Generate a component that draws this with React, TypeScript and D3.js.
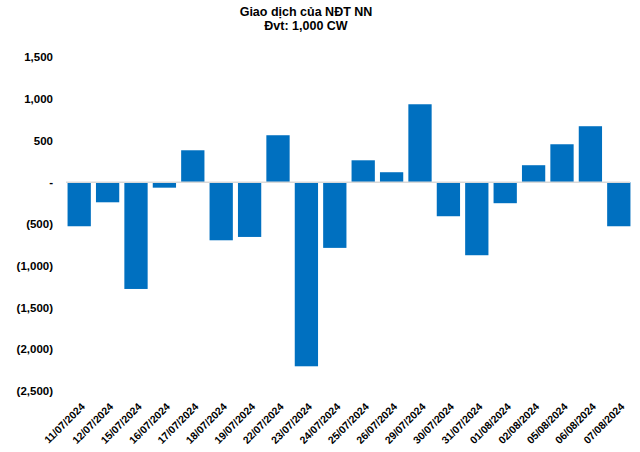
import React from "react";
import * as d3 from "d3";

const categories = [
  "11/07/2024", "12/07/2024", "15/07/2024", "16/07/2024", "17/07/2024",
  "18/07/2024", "19/07/2024", "22/07/2024", "23/07/2024", "24/07/2024",
  "25/07/2024", "26/07/2024", "29/07/2024", "30/07/2024", "31/07/2024",
  "01/08/2024", "02/08/2024", "05/08/2024", "06/08/2024", "07/08/2024",
];
const values = [
  -527, -240, -1278, -65, 383,
  -695, -655, 563, -2204, -786,
  263, 120, 934, -407, -874,
  -251, 204, 455, 671, -527,
];
const yTicks = [1500, 1000, 500, 0, -500, -1000, -1500, -2000, -2500];
const titleLines = ["Giao dịch của NĐT NN", "Đvt: 1,000 CW"];

const W = 640;
const H = 452;
const FONT = "'Liberation Sans', Arial, sans-serif";

function fmt(v: number): string {
  if (v === 0) return "-";
  const s = d3.format(",")(Math.abs(v));
  return v < 0 ? `(${s})` : s;
}

export default function App() {
  const y = d3.scaleLinear().domain([-2500, 1500]).range([391, 57]);
  const x = d3.scaleBand<string>().domain(categories).range([65, 633]).paddingInner(0.18).paddingOuter(0.09);
  const y0 = y(0);

  return (
    <svg width={W} height={H} style={{ position: "absolute", left: 0, top: 0, background: "#fff" }} fontFamily={FONT}>
      <g fontWeight="bold" fontSize={12.5} textAnchor="middle" fill="#000">
        {titleLines.map((t, i) => (
          <text key={i} x={306} y={16 + i * 14}>{t}</text>
        ))}
      </g>
      <g fontWeight="bold" fontSize={11.5} textAnchor="end" fill="#000">
        {yTicks.map((t) => (
          <text key={t} x={53} y={y(t)} dy="0.35em">{fmt(t)}</text>
        ))}
      </g>
      <g>
        {values.map((v, i) => (
          <rect
            key={i}
            x={x(categories[i])}
            width={x.bandwidth()}
            y={Math.min(y(v), y0)}
            height={Math.abs(y(v) - y0)}
            fill="#0070c0"
          />
        ))}
      </g>
      <line x1={66} x2={630} y1={y0} y2={y0} stroke="#d9d9d9" strokeWidth={1.5} />
      <g fontWeight="bold" fontSize={10.5} textAnchor="end" fill="#000">
        {categories.map((c) => {
          const cx = (x(c) as number) + x.bandwidth() / 2 + 1;
          const cy = 402;
          return (
            <text key={c} x={cx} y={cy} dy="0.72em" transform={`rotate(-45 ${cx} ${cy})`}>{c}</text>
          );
        })}
      </g>
    </svg>
  );
}
